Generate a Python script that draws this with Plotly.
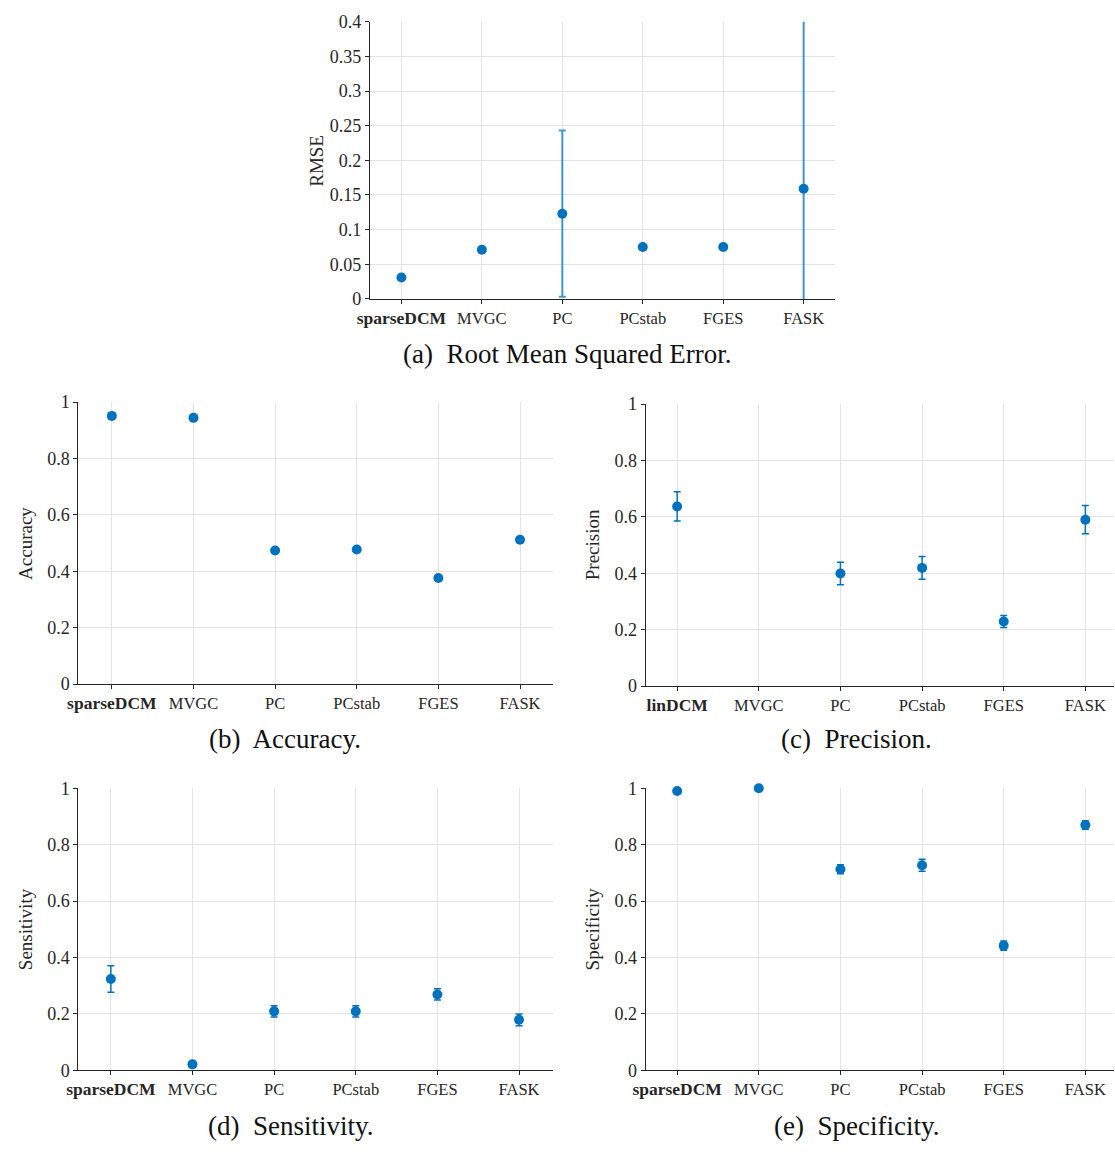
import plotly.graph_objects as go

W, H = 1115, 1153

methods_a = ["sparseDCM", "MVGC", "PC", "PCstab", "FGES", "FASK"]
methods_c = ["linDCM", "MVGC", "PC", "PCstab", "FGES", "FASK"]

rmse = [0.031, 0.071, 0.123, 0.075, 0.075, 0.159]
rmse_err_plus = [0.0, 0.0, 0.120, 0.0, 0.0, 0.30]
rmse_err_minus = [0.0, 0.0, 0.120, 0.0, 0.0, 0.20]

accuracy = [0.951, 0.944, 0.474, 0.477, 0.376, 0.512]
accuracy_err = [0.0, 0.0, 0.0, 0.0, 0.0, 0.0]

precision = [0.637, None, 0.399, 0.419, 0.229, 0.590]
precision_err = [0.052, 0.0, 0.040, 0.040, 0.021, 0.050]

sensitivity = [0.324, 0.021, 0.209, 0.209, 0.269, 0.179]
sensitivity_err = [0.047, 0.010, 0.020, 0.020, 0.020, 0.021]

specificity = [0.990, 1.000, 0.713, 0.727, 0.442, 0.870]
specificity_err = [0.003, 0.0, 0.016, 0.021, 0.016, 0.015]

FONT = "Liberation Serif, Times New Roman, serif"
BLUE = "#0072BD"
DARK = "#262626"

def px_x(p):
    return p / W

def px_y(p):
    return 1 - p / H

# panel geometry in pixels: (left, right, top, bottom, first_cat_x, last_cat_x)
panels = {
    "a": (361, 832, 12, 294, 393, 800),
    "b": (66, 546, 399, 686, 100, 513),
    "c": (640, 1114, 401, 688, 672, 1085),
    "d": (66, 546, 792, 1079, 99, 512),
    "e": (640, 1114, 792, 1079, 672, 1085),
}

fig = go.Figure()

specs = [
    ("a", methods_a, rmse, rmse_err_plus, rmse_err_minus, "RMSE", [0, 0.4], 0.05, 2.0, "rgba(0,114,189,0.72)", True),
    ("b", methods_a, accuracy, accuracy_err, accuracy_err, "Accuracy", [0, 1], 0.2, 1.5, BLUE, False),
    ("c", methods_c, precision, precision_err, precision_err, "Precision", [0, 1], 0.2, 1.5, BLUE, False),
    ("d", methods_a, sensitivity, sensitivity_err, sensitivity_err, "Sensitivity", [0, 1], 0.2, 1.5, BLUE, False),
    ("e", methods_a, specificity, specificity_err, specificity_err, "Specificity", [0, 1], 0.2, 1.5, BLUE, False),
]

annotations = []
layout_axes = {}
for i, (key, cats, vals, ep, em, ytitle, yr, dt, ew, ec, clip) in enumerate(specs):
    n = i + 1
    L, R, T, B, c0, c1 = panels[key]
    step = (c1 - c0) / (len(cats) - 1)
    xr = [-(c0 - L) / step, (len(cats) - 1) + (R - c1) / step]
    xs = list(range(len(cats)))
    xa = "x" if n == 1 else f"x{n}"
    ya = "y" if n == 1 else f"y{n}"
    fig.add_trace(go.Scatter(
        x=xs, y=vals, mode="markers",
        marker=dict(color=BLUE, size=10, line=dict(width=0)),
        error_y=dict(type="data", symmetric=False, array=ep, arrayminus=em,
                     color=ec, thickness=ew, width=3.5),
        xaxis=xa, yaxis=ya, showlegend=False, cliponaxis=clip,
    ))
    ticktext = [
        f'<span style="font-size:17.5px"><b>{c}</b></span>' if j == 0 else c
        for j, c in enumerate(cats)
    ]
    axis_common = dict(
        showline=True, linecolor=DARK, linewidth=1, mirror=False,
        showgrid=True, gridcolor="#e3e3e3", gridwidth=1, zeroline=False,
        ticks="outside", ticklen=4, tickcolor=DARK, tickwidth=1,
    )
    xname = "xaxis" if n == 1 else f"xaxis{n}"
    yname = "yaxis" if n == 1 else f"yaxis{n}"
    layout_axes[xname] = dict(
        axis_common, domain=[px_x(L), px_x(R)], range=xr,
        tickvals=xs, ticktext=ticktext, anchor=ya,
        tickfont=dict(family=FONT, size=16.5, color=DARK),
    )
    layout_axes[yname] = dict(
        axis_common, domain=[px_y(B), px_y(T)], range=yr,
        dtick=dt, tick0=0, anchor=xa,
        tickfont=dict(family=FONT, size=18, color=DARK),
    )
    annotations.append(dict(
        text=ytitle, textangle=-90, xref="paper", yref="paper",
        x=px_x(L - 54), y=px_y((T + B) / 2), showarrow=False,
        xanchor="center", yanchor="middle",
        font=dict(family=FONT, size=19, color=DARK),
    ))

captions = [
    ("(a)  Root Mean Squared Error.", 561, 350),
    ("(b)  Accuracy.", 275, 742),
    ("(c)  Precision.", 853, 742),
    ("(d)  Sensitivity.", 281, 1136),
    ("(e)  Specificity.", 853, 1136),
]
for text, cx, cy in captions:
    annotations.append(dict(
        text=text, xref="paper", yref="paper", x=px_x(cx), y=px_y(cy),
        showarrow=False, xanchor="center", yanchor="middle",
        font=dict(family=FONT, size=27, color="#111111"),
    ))

fig.update_layout(
    width=W, height=H, margin=dict(l=0, r=0, t=0, b=0),
    paper_bgcolor="white", plot_bgcolor="white",
    annotations=annotations, **layout_axes,
)

fig.write_html("out.html")
